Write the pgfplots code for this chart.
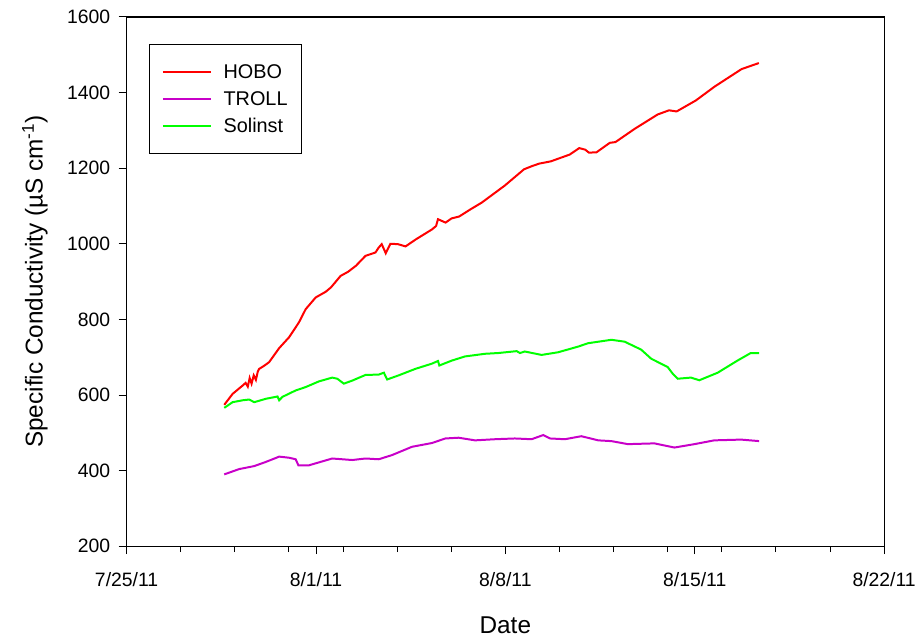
\documentclass[border=0pt]{standalone}
\usepackage{fontspec}
\setmainfont{Liberation Sans}
\usepackage{pgfplots}
\pgfplotsset{compat=1.18}
\usetikzlibrary{calc}

\definecolor{hobo}{RGB}{255,0,0}
\definecolor{troll}{RGB}{200,0,200}
\definecolor{solinst}{RGB}{0,255,0}

\begin{document}
\begin{tikzpicture}
\begin{axis}[
    scale only axis,
    width=760bp, height=531bp,
    xmin=0, xmax=28, ymin=200, ymax=1600,
    xtick={0,7,14,21,28},
    xticklabels={7/25/11,8/1/11,8/8/11,8/15/11,8/22/11},
    minor xtick={2,4,6,8,10,12,16,18,20,22,24,26},
    ytick={200,400,...,1600},
    tick align=outside,
    xtick pos=bottom, ytick pos=left,
    major tick length=8bp, minor tick length=6bp,
    every tick/.style={black, line width=0.9bp},
    axis line style={line width=1.2bp},
    /pgf/number format/assume math mode=true,
    /pgf/number format/1000 sep={},
    tick label style={font=\fontsize{19.5}{19.5}\selectfont},
    xticklabel style={yshift=-15bp},
    yticklabel style={xshift=-5bp},
    label style={font=\fontsize{24.5}{24.5}\selectfont},
    xlabel={Date},
    ylabel={Specific Conductivity (µS cm\textsuperscript{-1})},
    xlabel style={at={(axis description cs:0.5,-0.149)}, anchor=center},
    ylabel style={at={(axis description cs:-0.121,0.5)}, anchor=center},
    legend cell align=left,
    legend image code/.code={\draw[#1, line width=2bp] (0bp,0bp) -- (48bp,0bp);},
    legend style={at={(axis description cs:0.030,0.949)}, anchor=north west,
        draw=black, line width=1bp, inner xsep=12bp, inner ysep=18bp,
        font=\fontsize{20}{20}\selectfont,
        row sep=7.5bp,
        /tikz/every odd column/.append style={column sep=10bp}},
]
\addplot[hobo, line width=2bp] coordinates {
 (3.61,574) (3.92,603) (4.29,625) (4.40,632) (4.48,622) (4.55,645) (4.62,630)
 (4.70,652) (4.78,640) (4.85,662) (4.90,669) (5.10,678) (5.27,687) (5.64,724)
 (6.01,753) (6.37,792) (6.62,827) (6.99,858) (7.36,873) (7.56,885) (7.91,915)
 (8.19,926) (8.48,942) (8.83,968) (9.20,977) (9.32,990) (9.43,999) (9.58,975)
 (9.75,1000) (10.03,999) (10.31,993) (10.70,1012) (11.29,1038) (11.44,1047)
 (11.51,1065) (11.79,1056) (12.01,1067) (12.29,1072) (12.71,1091) (13.13,1109)
 (13.98,1154) (14.69,1197) (14.97,1205) (15.25,1212) (15.68,1218) (16.38,1236)
 (16.73,1253) (16.95,1249) (17.09,1241) (17.37,1242) (17.86,1267) (18.07,1269)
 (18.78,1304) (19.63,1342) (20.05,1353) (20.33,1350) (21.04,1379) (21.74,1416)
 (22.73,1462) (23.37,1478)
};
\addlegendentry{HOBO}
\addplot[troll, line width=2bp] coordinates {
 (3.61,390) (4.16,404) (4.72,412) (5.15,423) (5.64,437) (6.01,434) (6.25,430)
 (6.35,414) (6.74,414) (7.60,432) (8.34,428) (8.83,432) (9.32,430) (9.81,441)
 (10.55,463) (11.29,473) (11.78,485) (12.27,487) (12.88,480) (13.62,483)
 (14.35,485) (14.97,483) (15.40,494) (15.65,485) (16.20,483) (16.81,491)
 (17.43,480) (17.92,478) (18.53,470) (19.51,472) (20.25,461) (20.99,470)
 (21.72,480) (22.71,482) (23.38,478)
};
\addlegendentry{TROLL}
\addplot[solinst, line width=2bp] coordinates {
 (3.61,566) (3.92,581) (4.29,586) (4.53,588) (4.72,581) (5.15,590) (5.58,596)
 (5.64,586) (5.76,595) (6.25,612) (6.62,621) (7.11,636) (7.60,646) (7.79,643)
 (8.03,630) (8.34,638) (8.83,653) (9.32,654) (9.51,659) (9.63,641) (10.06,652)
 (10.67,669) (11.29,683) (11.51,690) (11.56,678) (12.02,691) (12.51,702)
 (13.25,709) (13.74,711) (14.42,716) (14.54,711) (14.72,715) (15.34,706)
 (15.95,713) (16.69,728) (17.06,737) (17.92,746) (18.41,741) (19.02,720)
 (19.39,696) (20.00,674) (20.19,656) (20.37,643) (20.86,646) (21.17,639)
 (21.85,659) (22.58,691) (23.07,711) (23.38,711)
};
\addlegendentry{Solinst}
\end{axis}
\path[use as bounding box] ($(current axis.south west)+(-127bp,-97bp)$)
    rectangle ($(current axis.north east)+(32bp,17bp)$);
\end{tikzpicture}
\end{document}
